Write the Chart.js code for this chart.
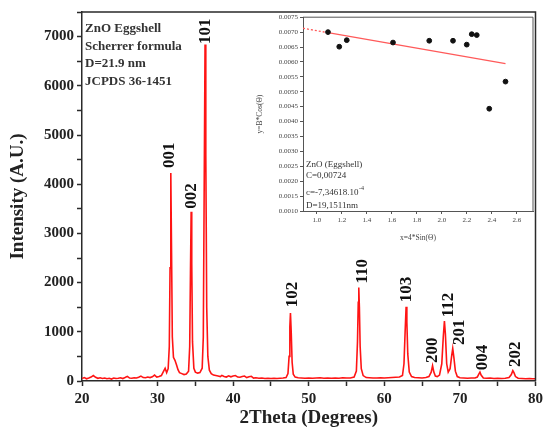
<!DOCTYPE html>
<html>
<head>
<meta charset="utf-8">
<script src="https://cdn.jsdelivr.net/npm/chart.js@4.4.1/dist/chart.umd.min.js"></script>
<style>
  body { margin: 0; background: #fff; }
  #wrap { position: relative; width: 547px; height: 429px; }
  #inset { position: absolute; left: 250px; top: 11px; }
</style>
</head>
<body>
<div id="wrap">
  <canvas id="xrd" width="547" height="429"></canvas>
  <canvas id="inset" width="290" height="240"></canvas>
</div>
<script>
// XRD pattern
const twoTheta = [20.0, 20.3, 20.6, 20.9, 21.2, 21.5, 21.8, 22.1, 22.4, 22.7, 23.0, 23.3, 23.6, 23.9, 24.2, 24.5, 24.8, 25.1, 25.4, 25.7,
  26.0, 26.3, 26.6, 26.9, 27.2, 27.5, 27.8, 28.1, 28.4, 28.7, 29.0, 29.3, 29.6, 29.9, 30.2, 30.5, 30.8, 31.0, 31.2, 31.4,
  31.55, 31.65, 31.75, 31.85, 31.95, 32.1, 32.3, 32.5, 32.7, 32.9, 33.2, 33.5, 33.8, 34.1, 34.25, 34.35, 34.44, 34.52, 34.62, 34.8,
  35.0, 35.3, 35.6, 35.9, 36.05, 36.15, 36.28, 36.38, 36.5, 36.65, 36.85, 37.1, 37.4, 37.7, 38.0, 38.3, 38.5, 38.8, 39.1, 39.4,
  39.7, 40.0, 40.3, 40.6, 40.9, 41.2, 41.5, 41.8, 42.1, 42.4, 42.7, 43.0, 43.4, 43.8, 44.2, 44.6, 45.0, 45.4, 45.8, 46.2,
  46.6, 47.0, 47.25, 47.4, 47.5, 47.58, 47.68, 47.8, 47.95, 48.2, 48.6, 49.0, 49.5, 50.0, 50.5, 51.0, 51.5, 52.0, 52.5, 53.0,
  53.5, 54.0, 54.5, 55.0, 55.5, 56.0, 56.3, 56.45, 56.55, 56.62, 56.7, 56.8, 56.95, 57.2, 57.6, 58.0, 58.5, 59.0, 59.5, 60.0,
  60.5, 61.0, 61.5, 62.0, 62.4, 62.6, 62.75, 62.88, 62.98, 63.1, 63.3, 63.6, 64.0, 64.5, 65.0, 65.5, 65.9, 66.2, 66.38, 66.55,
  66.75, 67.0, 67.3, 67.6, 67.8, 67.95, 68.08, 68.25, 68.45, 68.7, 68.9, 69.05, 69.2, 69.4, 69.65, 70.0, 70.5, 71.0, 71.5, 72.0,
  72.3, 72.5, 72.65, 72.8, 73.1, 73.5, 74.0, 74.5, 75.0, 75.5, 76.0, 76.5, 76.8, 77.0, 77.15, 77.35, 77.7, 78.2, 78.7, 79.2,
  79.6, 80.0];
const intensity = [50, 70, 45, 60, 80, 110, 75, 55, 65, 50, 60, 45, 55, 40, 60, 50, 55, 65, 50, 70,
  95, 60, 55, 65, 60, 75, 100, 70, 65, 80, 70, 85, 120, 80, 90, 110, 200, 260, 170, 250,
  700, 2300, 4230, 2600, 900, 480, 420, 330, 230, 170, 150, 130, 140, 200, 700, 2200, 3440, 2400, 800, 260,
  180, 160, 170, 260, 900, 3500, 6840, 4600, 1500, 500, 220, 150, 120, 110, 100, 90, 115, 90, 80, 105,
  85, 100, 110, 80, 75, 90, 100, 70, 85, 95, 60, 65, 55, 60, 50, 55, 50, 55, 50, 55,
  60, 70, 150, 500, 1100, 1380, 1000, 380, 140, 80, 65, 60, 55, 60, 55, 60, 65, 55, 60, 55,
  60, 55, 65, 60, 60, 80, 200, 800, 1600, 1900, 1500, 700, 250, 110, 70, 65, 60, 60, 65, 60,
  65, 70, 75, 80, 110, 350, 1000, 1510, 1200, 550, 180, 90, 70, 65, 60, 70, 90, 180, 310, 180,
  100, 90, 120, 350, 900, 1220, 950, 350, 180, 250, 500, 660, 480, 200, 90, 65, 60, 55, 60, 60,
  80, 140, 180, 120, 60, 55, 60, 50, 55, 50, 55, 70, 130, 210, 170, 90, 55, 50, 45, 50,
  45, 45];

// Miller index labels: where the text starts (2theta, intensity)
const peakNames = ['001', '002', '101', '102', '110', '103', '200', '112', '201', '004', '202'];
const peakLabelX = [31.6, 34.45, 36.4, 47.9, 57.1, 63.0, 66.4, 68.5, 69.9, 73.05, 77.4];
const peakLabelY = [4330, 3500, 6850, 1500, 1980, 1600, 365, 1295, 730, 220, 283];

const noteLines = ['ZnO Eggshell', 'Scherrer formula', 'D=21.9 nm', 'JCPDS 36-1451'];

// Williamson-Hall inset
const whX = [1.09, 1.18, 1.24, 1.61, 1.90, 2.09, 2.20, 2.24, 2.28, 2.38, 2.51];
const whY = [0.00700, 0.00651, 0.00673, 0.00665, 0.00671, 0.00671, 0.00658, 0.00693, 0.00690, 0.00443, 0.00534];
const fitX = [1.09, 2.51];
const fitY = [0.00698, 0.00594];
const fitExtX = [0.89, 1.09];
const fitExtY = [0.00713, 0.00698];
const insetXTicks = [1.0, 1.2, 1.4, 1.6, 1.8, 2.0, 2.2, 2.4, 2.6];

const axisColor = '#2a2a2a';
const serif = "'Liberation Serif', 'Times New Roman', serif";

const pts = (xs, ys) => xs.map((x, i) => ({ x: x, y: ys[i] }));

const framePlugin = {
  id: 'frame',
  afterDraw(chart) {
    const { ctx, chartArea: a } = chart;
    ctx.save();
    ctx.strokeStyle = chart.canvas.id === 'xrd' ? axisColor : '#555';
    ctx.lineWidth = chart.canvas.id === 'xrd' ? 1.5 : 1;
    ctx.beginPath();
    ctx.moveTo(a.left, a.top);
    ctx.lineTo(a.right, a.top);
    ctx.lineTo(a.right, a.bottom);
    ctx.stroke();
    ctx.restore();
  }
};

const labelsPlugin = {
  id: 'peakLabels',
  afterDatasetsDraw(chart) {
    const { ctx, scales, chartArea: a } = chart;
    ctx.save();
    ctx.fillStyle = '#111';
    ctx.font = 'bold 17px ' + serif;
    ctx.textAlign = 'left';
    ctx.textBaseline = 'middle';
    peakNames.forEach((name, i) => {
      const x = scales.x.getPixelForValue(peakLabelX[i]);
      const y = scales.y.getPixelForValue(peakLabelY[i]);
      ctx.save();
      ctx.translate(x, y);
      ctx.rotate(-Math.PI / 2);
      ctx.fillText(name, 0, 0);
      ctx.restore();
    });
    ctx.font = 'bold 13px ' + serif;
    ctx.fillStyle = '#333';
    noteLines.forEach((t, i) => {
      ctx.fillText(t, a.left + 3, a.top + 17 + i * 17.5);
    });
    ctx.restore();
  }
};

new Chart(document.getElementById('xrd'), {
  type: 'line',
  data: {
    datasets: [{
      data: pts(twoTheta, intensity),
      borderColor: 'rgb(255, 20, 20)',
      borderWidth: 1.6,
      pointRadius: 0,
      tension: 0
    }]
  },
  options: {
    responsive: false,
    animation: false,
    layout: { padding: { top: 11, right: 7, left: 0, bottom: 0 } },
    plugins: { legend: { display: false }, tooltip: { enabled: false } },
    scales: {
      x: {
        type: 'linear',
        min: 20, max: 80,
        afterFit: s => { s.height = 48; },
        ticks: {
          stepSize: 5,
          padding: 4,
          color: '#222',
          font: { family: serif, size: 15, weight: 'bold' },
          callback: v => (v % 10 === 0 ? v : '')
        },
        grid: { drawOnChartArea: false, tickLength: 5, color: axisColor, tickWidth: 1.5 },
        border: { color: axisColor, width: 1.5 },
        title: {
          display: true,
          text: '2Theta (Degrees)',
          color: '#222',
          font: { family: serif, size: 19, weight: 'bold' },
          padding: { top: 0, bottom: 0 }
        }
      },
      y: {
        min: 0, max: 7500,
        afterFit: s => { s.width = 82; },
        ticks: {
          stepSize: 500,
          padding: 3,
          color: '#222',
          font: { family: serif, size: 15, weight: 'bold' },
          callback: v => (v % 1000 === 0 ? v : '')
        },
        grid: { drawOnChartArea: false, tickLength: 5, color: axisColor, tickWidth: 1.5 },
        border: { color: axisColor, width: 1.5 },
        title: {
          display: true,
          text: 'Intensity (A.U.)',
          color: '#222',
          font: { family: serif, size: 19, weight: 'bold' },
          padding: { top: 7, bottom: 0 }
        }
      }
    }
  },
  plugins: [framePlugin, labelsPlugin]
});

const insetTextPlugin = {
  id: 'insetText',
  afterDraw(chart) {
    const { ctx, chartArea: a } = chart;
    ctx.save();
    ctx.fillStyle = '#333';
    ctx.font = '9px ' + serif;
    ctx.textAlign = 'left';
    ctx.textBaseline = 'middle';
    const x0 = a.left + 3;
    ctx.fillText('ZnO (Eggshell)', x0, a.top + 147);
    ctx.fillText('C=0,00724', x0, a.top + 158);
    ctx.fillText('c=-7,34618.10', x0, a.top + 175);
    const w = ctx.measureText('c=-7,34618.10').width;
    ctx.font = '6px ' + serif;
    ctx.fillText('-4', x0 + w + 0.5, a.top + 171);
    ctx.font = '9px ' + serif;
    ctx.fillText('D=19,1511nm', x0, a.top + 188);
    ctx.restore();
  }
};

new Chart(document.getElementById('inset'), {
  type: 'scatter',
  data: {
    datasets: [
      {
        data: pts(whX, whY),
        backgroundColor: '#111',
        borderColor: '#111',
        pointRadius: 2.4
      },
      {
        type: 'line',
        data: pts(fitX, fitY),
        borderColor: 'rgb(255, 90, 90)',
        borderWidth: 1.3,
        pointRadius: 0
      },
      {
        type: 'line',
        data: pts(fitExtX, fitExtY),
        borderColor: 'rgb(255, 90, 90)',
        borderWidth: 1.3,
        borderDash: [2, 2],
        pointRadius: 0
      }
    ]
  },
  options: {
    responsive: false,
    animation: false,
    layout: { padding: { top: 4, right: 7, left: 0, bottom: 0 } },
    plugins: { legend: { display: false }, tooltip: { enabled: false } },
    scales: {
      x: {
        type: 'linear',
        min: 0.89, max: 2.73,
        afterFit: s => { s.height = 40; },
        afterBuildTicks: s => { s.ticks = insetXTicks.map(v => ({ value: v })); },
        ticks: {
          padding: 2,
          color: '#444',
          font: { family: serif, size: 7 },
          callback: v => v.toFixed(1)
        },
        grid: { drawOnChartArea: false, tickLength: 3, color: '#555' },
        border: { color: '#555', width: 1 },
        title: {
          display: true,
          text: 'x=4*Sin(\u0398)',
          color: '#444',
          font: { family: serif, size: 7.5 },
          padding: { top: 0, bottom: 8 }
        }
      },
      y: {
        min: 0.0010, max: 0.0075,
        afterFit: s => { s.width = 53; },
        ticks: {
          stepSize: 0.0005,
          padding: 2,
          color: '#444',
          font: { family: serif, size: 7 },
          callback: v => v.toFixed(4)
        },
        grid: { drawOnChartArea: false, tickLength: 3, color: '#555' },
        border: { color: '#555', width: 1 },
        title: {
          display: true,
          text: 'y=B*Cos(\u0398)',
          color: '#444',
          font: { family: serif, size: 7.5 },
          padding: { top: 6, bottom: 0 }
        }
      }
    }
  },
  plugins: [framePlugin, insetTextPlugin]
});
</script>
</body>
</html>
